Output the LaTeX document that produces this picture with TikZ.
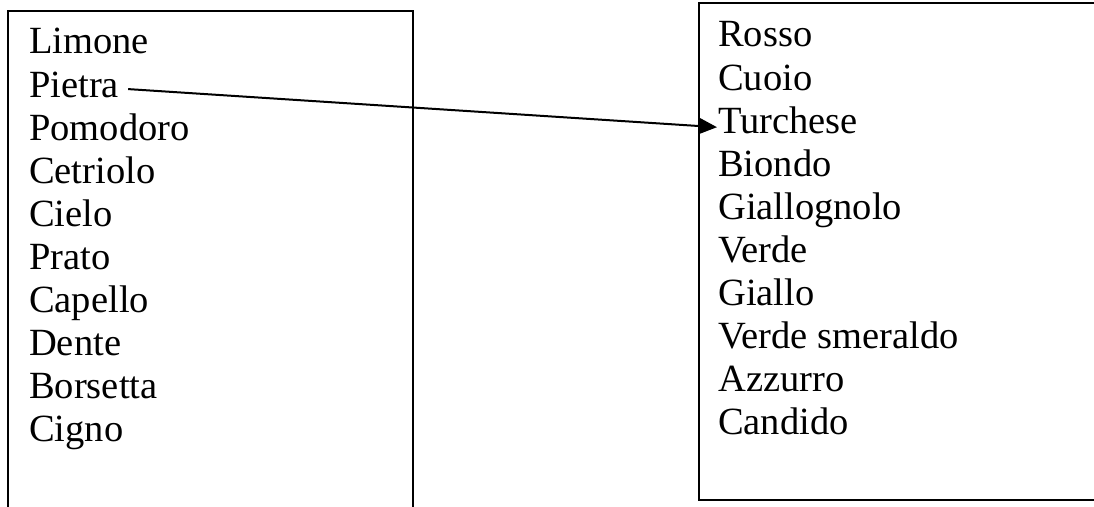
\documentclass[tikz,border=0pt]{standalone}
\usepackage{fontspec}
\setmainfont{Liberation Serif}
\usepackage{tikz}
\usetikzlibrary{arrows.meta}

\tikzset{
	voce/.style={anchor=base west, inner sep=0pt, font=\fontsize{38.5}{43}\selectfont},
	riquadro/.style={black, line width=2.5pt},
	freccia/.style={line width=2pt, -{Triangle[length=18pt,width=16pt]}}
}

\begin{document}
\begin{tikzpicture}[x=1pt, y=1pt]
		\useasboundingbox (0, 0) rectangle (1094, 506);
		% riquadri aperti
		\draw[riquadro] (8, -5) -- (8, 495) -- (413, 495) -- (413, -5);
		\draw[riquadro] (1100, 503) -- (699, 503) -- (699, 6) -- (1100, 6);
		% prima colonna
		\node[voce] (limone) at (29, 452) {Limone};
		\node[voce] (pietra) at (29, 408.9) {Pietra};
		\node[voce] (pomodoro) at (29, 365.8) {Pomodoro};
		\node[voce] (cetriolo) at (29, 322.7) {Cetriolo};
		\node[voce] (cielo) at (29, 279.6) {Cielo};
		\node[voce] (prato) at (29, 236.5) {Prato};
		\node[voce] (capello) at (29, 193.4) {Capello};
		\node[voce] (dente) at (29, 150.3) {Dente};
		\node[voce] (borsetta) at (29, 107.2) {Borsetta};
		\node[voce] (cigno) at (29, 64.1) {Cigno};
		% seconda colonna
		\node[voce] (rosso) at (718, 459) {Rosso};
		\node[voce] (cuoio) at (718, 415.9) {Cuoio};
		\node[voce] (turchese) at (718, 372.8) {Turchese};
		\node[voce] (biondo) at (718, 329.7) {Biondo};
		\node[voce] (giallognolo) at (718, 286.6) {Giallognolo};
		\node[voce] (verde) at (718, 243.5) {Verde};
		\node[voce] (giallo) at (718, 200.4) {Giallo};
		\node[voce] (smeraldo) at (718, 157.3) {Verde smeraldo};
		\node[voce] (azzurro) at (718, 114.2) {Azzurro};
		\node[voce] (candido) at (718, 71.1) {Candido};
		% collegamento
		\draw[freccia] ([xshift=9pt, yshift=8pt]pietra.base east) -- ([xshift=-1pt, yshift=6pt]turchese.base west);
	\end{tikzpicture}
\end{document}
